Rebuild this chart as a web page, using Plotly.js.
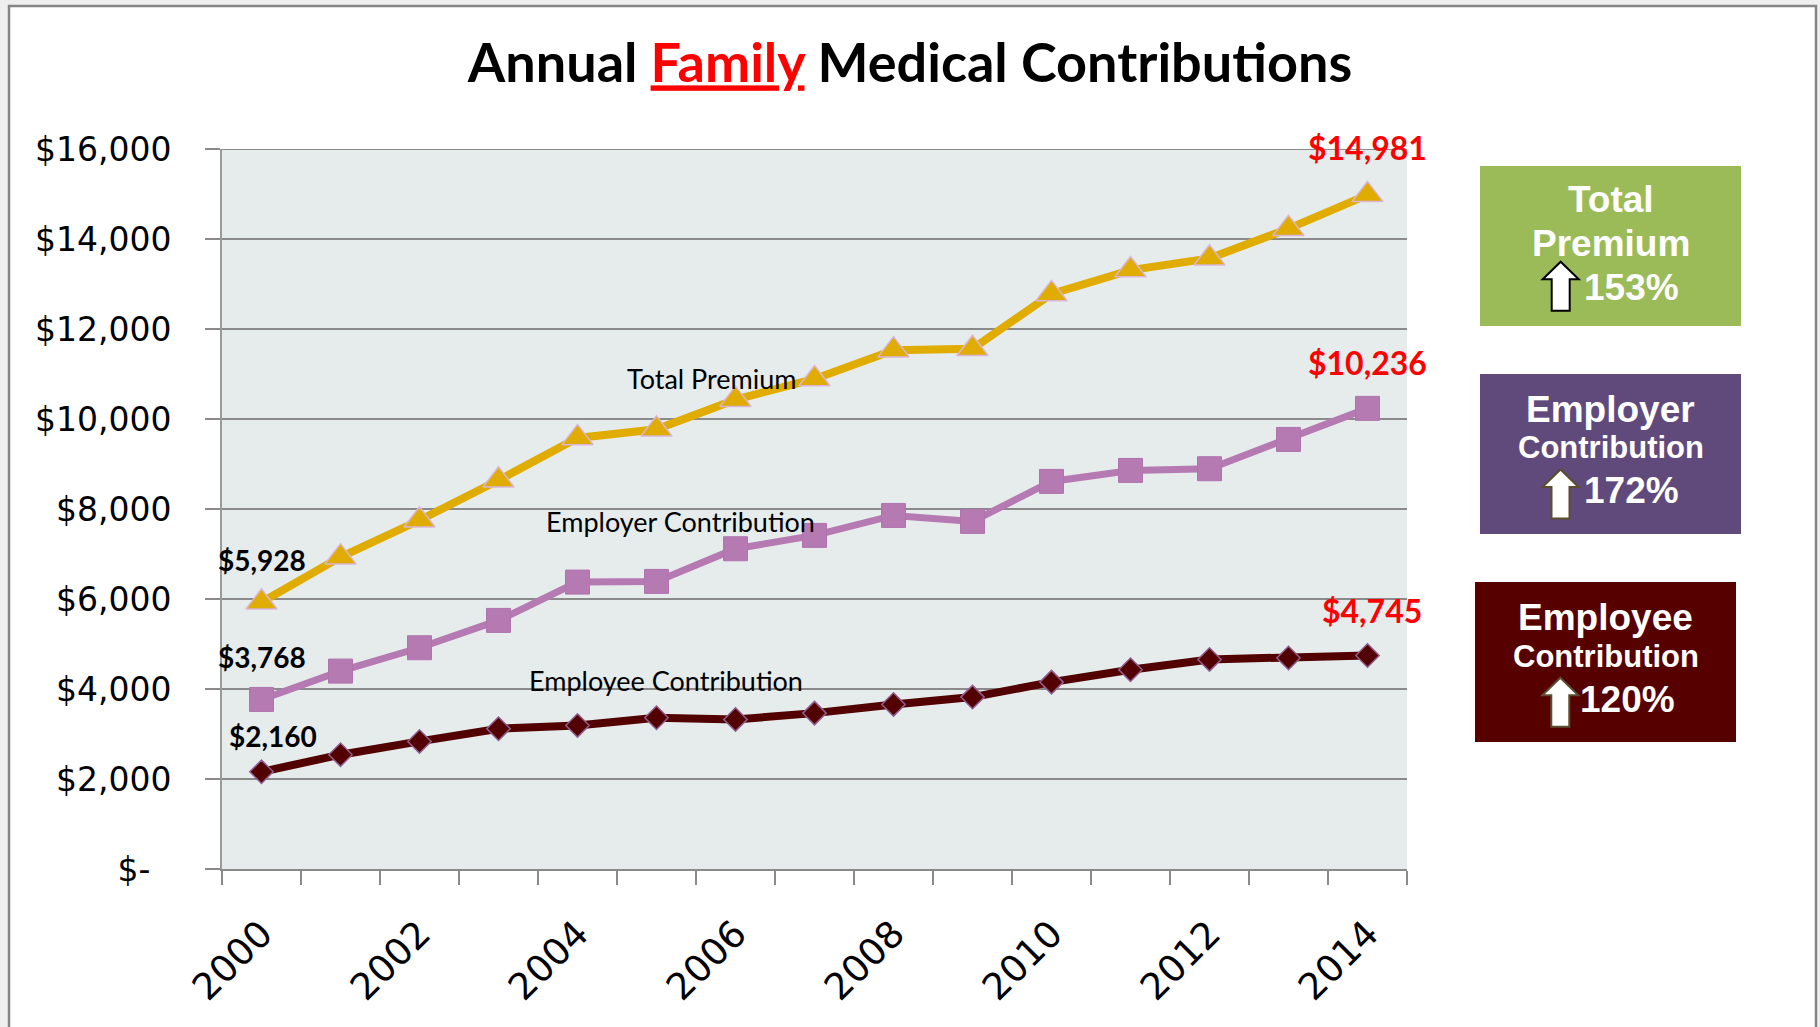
<!DOCTYPE html>
<html>
<head>
<meta charset="utf-8">
<script src="https://cdn.plot.ly/plotly-3.0.1.min.js"></script>
<style>
  html, body { margin: 0; padding: 0; background: #ffffff; }
  #chart { width: 1820px; height: 1027px; }
</style>
</head>
<body>
<div id="chart"></div>
<script>
// ---------------- data ----------------
const years = [2000, 2001, 2002, 2003, 2004, 2005, 2006, 2007, 2008, 2009, 2010, 2011, 2012, 2013, 2014];
const totalPremium = [5928, 6930, 7750, 8640, 9580, 9770, 10430, 10890, 11530, 11560, 12780, 13310, 13570, 14230, 14981];
const employerContribution = [3768, 4398, 4917, 5524, 6376, 6391, 7117, 7413, 7857, 7724, 8613, 8857, 8895, 9546, 10236];
const employeeContribution = [2160, 2540, 2835, 3117, 3191, 3362, 3324, 3464, 3657, 3820, 4153, 4428, 4657, 4691, 4745];
const xTickYears = [2000, 2002, 2004, 2006, 2008, 2010, 2012, 2014];
const xTickLabels = ['2000', '2002', '2004', '2006', '2008', '2010', '2012', '2014'];
const yTickValues = [0, 2000, 4000, 6000, 8000, 10000, 12000, 14000, 16000];
const yTickLabels = ['$-\u00a0\u00a0', '$2,000', '$4,000', '$6,000', '$8,000', '$10,000', '$12,000', '$14,000', '$16,000'];
const seriesNames = ['Total Premium', 'Employer Contribution', 'Employee Contribution'];
const boxTitles = [['Total', 'Premium'], ['Employer', 'Contribution'], ['Employee', 'Contribution']];
const boxPercents = ['153%', '172%', '120%'];

// ---------------- geometry helpers ----------------
const W = 1820, H = 1027;
const M = { l: 222, r: 413, t: 149, b: 158 };
const PW = W - M.l - M.r, PH = H - M.t - M.b;
const px = x => (x - M.l) / PW;
const py = y => (H - M.b - y) / PH;

const money = v => '$' + v.toLocaleString('en-US');

const gold = '#E0AC00', orchid = '#B67AB3', maroon = '#520000';
const gridGray = '#8a8a8a';

const traces = [
  {
    x: years, y: totalPremium, name: seriesNames[0], type: 'scatter', mode: 'lines+markers',
    line: { color: gold, width: 8 },
    marker: { symbol: 'triangle-up', size: 27, color: gold, line: { color: '#D9B6D9', width: 1.5 } },
    hoverinfo: 'skip', cliponaxis: false
  },
  {
    x: years, y: employerContribution, name: seriesNames[1], type: 'scatter', mode: 'lines+markers',
    line: { color: orchid, width: 7 },
    marker: { symbol: 'square', size: 24, color: orchid, line: { color: '#B073AD', width: 1 } },
    hoverinfo: 'skip', cliponaxis: false
  },
  {
    x: years, y: employeeContribution, name: seriesNames[2], type: 'scatter', mode: 'lines+markers',
    line: { color: maroon, width: 8 },
    marker: { symbol: 'diamond', size: 18, color: maroon, line: { color: '#8F5F8F', width: 1.5 } },
    hoverinfo: 'skip', cliponaxis: false
  }
];

// ---------------- annotations ----------------
const last = years.length - 1;
const annotations = [];
// first-point labels (black)
[[totalPremium, 42, 0], [employerContribution, 42, 0], [employeeContribution, 36, 11]].forEach(([s, ys, xs]) => {
  annotations.push({ x: years[0], y: s[0], xref: 'x', yref: 'y', text: money(s[0]), showarrow: false,
    xanchor: 'center', yanchor: 'middle', yshift: ys, xshift: xs,
    font: { family: 'Lato', size: 28, color: '#000', weight: 'bold' } });
});
// last-point labels (red)
[[totalPremium, 47, 0], [employerContribution, 46, 0], [employeeContribution, 45, 4]].forEach(([s, ys, xs]) => {
  annotations.push({ x: years[last], y: s[last], xref: 'x', yref: 'y', text: money(s[last]), showarrow: false,
    xanchor: 'center', yanchor: 'middle', yshift: ys, xshift: xs,
    font: { family: 'Lato', size: 32, color: '#FF0000', weight: 'bold' } });
});
// series name labels
const seriesLabelPos = [[2005.70, 10911], [2005.31, 7733], [2005.12, 4178]];
seriesNames.forEach((n, i) => {
  annotations.push({ x: seriesLabelPos[i][0], y: seriesLabelPos[i][1], xref: 'x', yref: 'y', text: n, showarrow: false,
    xanchor: 'center', yanchor: 'middle', font: { family: 'Lato', size: 27, color: '#000' } });
});

// side boxes
const boxes = [
  { x0: 1480, x1: 1741, y0: 166, y1: 326, color: '#9BBB59', lines: [[199.7, 37], [243, 37]], pct: [1631.7, 287.5], arrow: [1542.7, 261.7], arrowLine: '#000000' },
  { x0: 1480, x1: 1741, y0: 374, y1: 534, color: '#604A7B', lines: [[409, 37], [447.7, 31]], pct: [1631.5, 490.7], arrow: [1542.5, 469.5], arrowLine: '#5b4d2e' },
  { x0: 1475, x1: 1736, y0: 582, y1: 742, color: '#560000', lines: [[617.5, 37], [656, 31]], pct: [1627.5, 699], arrow: [1542.3, 677.7], arrowLine: '#5b4d2e' }
];

const outside = '#efefef';
const shapes = [
  // light strips outside the frame
  { type: 'rect', xref: 'paper', yref: 'paper', x0: px(0), x1: px(W), y0: py(6), y1: py(0), fillcolor: outside, line: { width: 0 }, layer: 'below' },
  { type: 'rect', xref: 'paper', yref: 'paper', x0: px(0), x1: px(9), y0: py(H), y1: py(0), fillcolor: outside, line: { width: 0 }, layer: 'below' },
  { type: 'rect', xref: 'paper', yref: 'paper', x0: px(1816), x1: px(W), y0: py(H), y1: py(0), fillcolor: outside, line: { width: 0 }, layer: 'below' },
  // outer frame (outline only)
  { type: 'rect', xref: 'paper', yref: 'paper', x0: px(9), x1: px(1816), y0: py(6), y1: py(1045),
    fillcolor: 'rgba(0,0,0,0)', line: { color: '#858585', width: 2.5 }, layer: 'above' },
  // top gridline at the range maximum
  { type: 'line', xref: 'paper', yref: 'y', x0: 0, x1: 1, y0: yTickValues[yTickValues.length - 1], y1: yTickValues[yTickValues.length - 1],
    line: { color: gridGray, width: 2 }, layer: 'below' }
];

function arrowPath(x, y) {
  const w = 36, h = 49, hh = 17.5, sw = 18, cx = x + w / 2;
  const pts = [[cx, y], [x + w, y + hh], [cx + sw / 2, y + hh], [cx + sw / 2, y + h],
               [cx - sw / 2, y + h], [cx - sw / 2, y + hh], [x, y + hh]];
  return 'M' + pts.map(p => px(p[0]).toFixed(5) + ',' + py(p[1]).toFixed(5)).join(' L') + ' Z';
}

boxes.forEach((b, i) => {
  shapes.push({ type: 'rect', xref: 'paper', yref: 'paper', x0: px(b.x0), x1: px(b.x1), y0: py(b.y1), y1: py(b.y0),
    fillcolor: b.color, line: { width: 0 }, layer: 'above' });
  shapes.push({ type: 'path', xref: 'paper', yref: 'paper', path: arrowPath(b.arrow[0], b.arrow[1]),
    fillcolor: '#ffffff', line: { color: b.arrowLine, width: 2 }, layer: 'above' });
  const cx = (b.x0 + b.x1) / 2;
  boxTitles[i].forEach((t, j) => {
    annotations.push({ x: px(cx), y: py(b.lines[j][0]), xref: 'paper', yref: 'paper', text: t, showarrow: false,
      xanchor: 'center', yanchor: 'middle',
      font: { family: 'Liberation Sans', size: b.lines[j][1], color: '#ffffff', weight: 'bold' } });
  });
  annotations.push({ x: px(b.pct[0]), y: py(b.pct[1]), xref: 'paper', yref: 'paper', text: boxPercents[i], showarrow: false,
    xanchor: 'center', yanchor: 'middle',
    font: { family: 'Liberation Sans', size: 37, color: '#ffffff', weight: 'bold' } });
});

const layout = {
  width: W, height: H,
  margin: { l: M.l, r: M.r, t: M.t, b: M.b, pad: 0 },
  paper_bgcolor: '#ffffff',
  plot_bgcolor: '#E6ECEC',
  showlegend: false,
  title: {
    text: 'Annual <span style="color:#FF0000"><u>Family</u></span> Medical Contributions',
    font: { family: 'Lato', size: 54, color: '#000000', weight: 'bold' },
    x: 0.5, xref: 'container', xanchor: 'center',
    y: 1 - 63.5 / H, yref: 'container', yanchor: 'middle'
  },
  xaxis: {
    type: 'linear', range: [years[0] - 0.5, years[last] + 0.5],
    tickmode: 'array', tickvals: xTickYears, ticktext: xTickLabels,
    ticks: '', tickangle: -45, ticklabelstandoff: 26,
    tickfont: { family: 'DejaVu Sans', size: 37, color: '#000000' },
    showgrid: false, zeroline: false,
    showline: true, linecolor: gridGray, linewidth: 2,
    minor: { tickmode: 'array', tickvals: years.map(y => y - 0.5).concat([years[last] + 0.5]),
             ticks: 'outside', ticklen: 14, tickwidth: 1.5, tickcolor: gridGray, showgrid: false },
    fixedrange: true
  },
  yaxis: {
    range: [0, 16000],
    tickmode: 'array', tickvals: yTickValues, ticktext: yTickLabels,
    ticks: 'outside', ticklen: 15, tickwidth: 2, tickcolor: gridGray, ticklabelstandoff: 27,
    tickfont: { family: 'DejaVu Sans', size: 33, color: '#000000' },
    showgrid: true, gridcolor: gridGray, gridwidth: 2,
    zeroline: false, showline: true, linecolor: '#9a9a9a', linewidth: 2,
    fixedrange: true
  },
  shapes: shapes,
  annotations: annotations
};

Plotly.newPlot('chart', traces, layout, { staticPlot: true, displayModeBar: false });
</script>
</body>
</html>
